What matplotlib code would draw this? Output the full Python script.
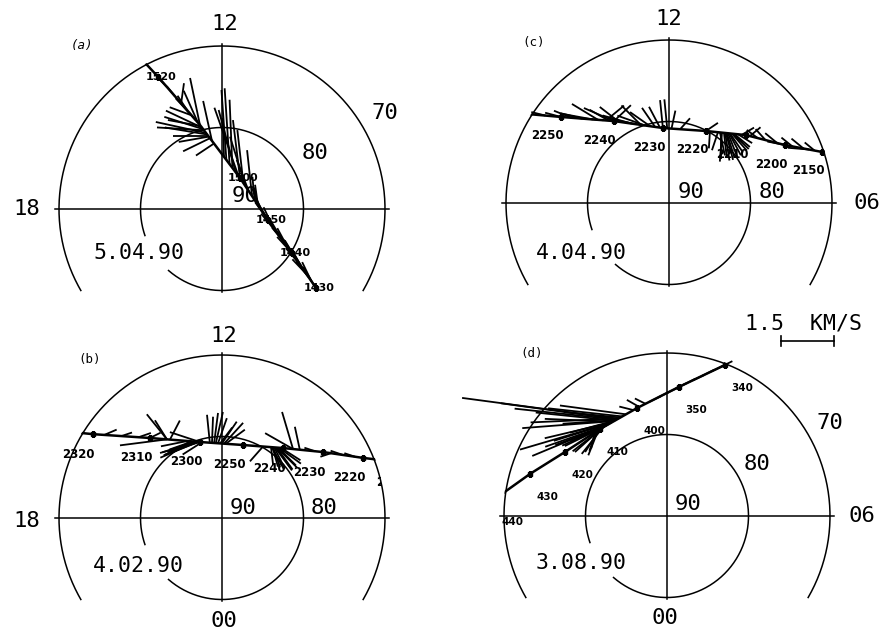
import numpy as np
import matplotlib
matplotlib.use("Agg")
import matplotlib.pyplot as plt
from matplotlib.collections import LineCollection
from matplotlib.patches import Circle
from matplotlib.transforms import Bbox, TransformedBbox

# ---------------- data ----------------
# Panel (a) 5.04.90 : satellite track (UT hhmm, MLT h, invariant latitude deg)
A_TIME = [1430, 1440, 1450, 1500, 1510, 1520, 1522]
A_MLT = [3.33, 3.85, 5.10, 9.99, 12.98, 13.72, 13.85]
A_LAT = [74.9, 79.85, 84.2, 85.6, 79.34, 72.0, 69.75]
A_SHOW = [1, 1, 1, 1, 0, 1, 0]
# drift vectors: time (hhmm), dawnward and sunward components (km/s)
A_VT = [1508.5, 1509.0, 1509.5, 1508.0, 1507.5, 1510.0, 1511.0, 1512.0, 1513.0, 1507.0, 1514.5, 1509.8, 1506.5, 1516.0, 1518.0,
        1508.2, 1509.2, 1507.8, 1510.5,
        1503.4, 1502.6, 1501.9, 1501.1, 1500.4, 1500.0, 1458.8, 1457.9, 1456.9, 1455.7, 1454.8, 1453.6, 1504.0,
        1431, 1433, 1435, 1437, 1439, 1441, 1443, 1445, 1447, 1449, 1451, 1452.5,
        1432, 1434, 1436, 1438, 1440, 1442, 1444, 1446, 1448, 1450]
A_VX = [-1.42, -1.33, -1.02, -0.99, -0.76, -0.28, -0.57, -0.62, -0.28, -0.25, 0.08, -0.93, -0.51, -0.23, -0.17,
        -1.20, -1.10, -0.85, -0.40,
        -0.14, -0.14, -0.08, -0.48, -0.68, -0.20, -0.17, -0.45, -0.34, -0.14, -0.06, -0.08, -0.03,
        -0.30, -0.36, -0.32, -0.38, -0.30, -0.34, -0.36, -0.30, -0.40, -0.32, -0.30, -0.25,
        -0.26, -0.40, -0.28, -0.34, -0.42, -0.28, -0.38, -0.34, -0.26, -0.36]
A_VY = [0.31, 0.08, 0.48, 0.00, -0.37, 1.33, 0.62, 0.23, 0.42, 1.13, 0.57, 0.17, -0.34, 0.28, 0.17,
        0.20, 0.35, -0.15, 0.90,
        1.98, 2.15, 1.93, 1.76, 1.93, 1.64, 1.50, 1.42, 0.88, 1.30, 0.65, 0.57, 1.10,
        0.50, 0.46, 0.52, 0.44, 0.48, 0.50, 0.44, 0.52, 0.46, 0.50, 0.55, 0.60,
        0.54, 0.42, 0.50, 0.56, 0.46, 0.52, 0.48, 0.44, 0.55, 0.50]

# Panel (b) 4.02.90
B_TIME = [2210, 2220, 2230, 2240, 2250, 2300, 2310, 2320, 2324]
B_MLT = [7.11, 7.54, 8.21, 9.26, 10.93, 13.08, 14.80, 15.80, 16.03]
B_LAT = [66.43, 71.20, 75.20, 78.61, 80.68, 80.29, 76.79, 71.11, 68.57]
B_SHOW = [1, 1, 1, 1, 1, 1, 1, 1, 0]
B_VT = [2306.6, 2306.6, 2306.0, 2306.6, 2300.0, 2300.0, 2300.5, 2301.0, 2301.5, 2302.0, 2259.5, 2302.5,
        2300.2, 2300.8, 2301.2,
        2257.7, 2257.2, 2256.7, 2256.3, 2255.8, 2255.3, 2254.9, 2254.4, 2254.0,
        2242.5, 2242.0, 2241.5, 2243.0, 2241.0, 2242.8, 2241.8, 2240.5, 2245.0,
        2242.2, 2241.2, 2242.6, 2241.6,
        2237.5, 2235.8, 2237.5,
        2222, 2225, 2228, 2232, 2310, 2312, 2315, 2318]
B_VX = [-0.57, -0.34, 0.28, -1.33, -0.85, -1.13, -1.05, -0.85, -0.65, -0.42, -0.55, -0.75,
        -1.00, -0.95, -0.75,
        -0.08, 0.03, 0.11, 0.20, 0.25, 0.34, 0.42, 0.54, 0.54,
        0.20, 0.48, 0.57, 0.06, 0.62, 0.34, 0.40, 0.55, -0.37,
        0.30, 0.50, 0.15, 0.45,
        -0.31, -0.14, -0.79,
        -0.30, -0.35, -0.30, -0.30, 0.30, 0.35, 0.30, 0.35]
B_VY = [0.71, 0.54, 0.54, -0.17, 0.28, -0.31, -0.45, -0.37, -0.23, -0.28, -0.35, -0.15,
        -0.38, -0.30, -0.30,
        0.79, 0.74, 0.85, 0.88, 0.71, 0.45, 0.62, 0.59, 0.40,
        -0.57, -0.65, -0.57, -0.51, -0.45, -0.62, -0.55, -0.35, -0.42,
        -0.60, -0.50, -0.55, -0.62,
        1.05, 0.65, 0.45,
        0.10, 0.12, -0.10, 0.10, 0.15, 0.12, 0.10, 0.15]

# Panel (c) 4.04.90
C_TIME = [2150, 2200, 2210, 2220, 2230, 2240, 2250, 2254]
C_MLT = [7.23, 7.77, 8.76, 10.19, 12.31, 14.26, 15.43, 15.83]
C_LAT = [70.21, 74.09, 77.40, 80.07, 80.77, 77.89, 73.06, 69.75]
C_SHOW = [1, 1, 1, 1, 1, 1, 1, 0]
C_VT = [2240.0, 2240.0, 2239.0, 2241.0, 2242.0, 2244.0, 2243.0, 2241.5, 2246, 2248, 2250, 2252,
        2230.6, 2231.6, 2232.6, 2230.0, 2229.0, 2228.0, 2233.6, 2235.4, 2236.4, 2226.0, 2234.5,
        2219.0, 2220.0,
        2216.0, 2215.0, 2214.0, 2213.0, 2215.5, 2214.5, 2217.0, 2212.0, 2216.5, 2213.5, 2211.0, 2209.0,
        2215.2, 2214.2, 2213.2, 2216.2, 2214.8,
        2152, 2155, 2158, 2202, 2205, 2207, 2153.5, 2200]
C_VX = [-0.85, 0.48, -0.54, -0.54, -0.93, -0.93, -0.74, 0.51, -0.60, -0.50, -0.45, -0.40,
        -0.31, -0.37, -0.57, -0.08, -0.08, 0.11, -0.79, -0.82, -0.82, 0.28, -0.55,
        -0.03, 0.34,
        -0.06, 0.20, 0.37, 0.45, 0.08, 0.28, -0.17, 0.40, 0.14, 0.42, 0.34, 0.30,
        0.12, 0.33, 0.44, 0.00, 0.22,
        -0.28, -0.34, -0.31, -0.34, -0.28, -0.31, -0.60, -0.50]
C_VY = [0.37, 0.45, 0.42, 0.31, 0.08, 0.17, 0.45, 0.42, 0.15, 0.20, 0.12, 0.10,
        0.59, 0.54, 0.40, 0.79, 0.82, 0.51, 0.28, 0.17, 0.23, 0.31, 0.55,
        -0.48, 0.23,
        -0.82, -0.76, -0.54, -0.37, -0.71, -0.71, -0.51, -0.25, -0.65, -0.48, 0.20, 0.25,
        -0.78, -0.62, -0.43, -0.75, -0.70,
        0.23, 0.28, 0.25, 0.28, 0.31, 0.23, 0.05, 0.10]

# Panel (d) 3.08.90
D_TIME = [340, 350, 400, 410, 420, 430, 440]
D_MLT = [10.60, 11.65, 13.03, 14.51, 15.86, 16.86, 17.62]
D_LAT = [70.15, 74.10, 76.25, 76.53, 75.22, 72.42, 68.80]
D_SHOW = [1, 1, 1, 1, 1, 1, 1]
D_VT = [405.1, 405.5, 406.0, 406.5, 404.0, 403.0, 407.0, 407.5, 408.0, 408.5, 409.0, 409.5, 410.0, 410.5, 406.0, 405.0, 411.0, 411.5,
        404.5, 405.8, 406.8, 407.2, 407.8, 408.2, 408.8, 409.2, 406.2, 405.3,
        341, 343, 345, 347, 349, 351, 353, 355, 357, 358, 359.5, 401]
D_VX = [-4.42, -2.89, -2.24, -1.93, -2.10, -1.87, -2.58, -2.18, -1.76, -1.42, -1.10, -0.76, -0.42, -0.28, -1.27, -2.49, -0.20, -0.10,
        -1.60, -1.50, -1.90, -1.60, -1.30, -1.00, -0.90, -0.60, -2.60, -3.30,
        0.34, 0.31, 0.36, 0.30, 0.34, 0.32, 0.35, 0.30, 0.33, -0.30, -0.35, -0.40]
D_VY = [0.59, 0.31, 0.23, 0.08, 0.23, 0.25, -0.76, -0.91, -0.62, -0.54, -0.54, -0.68, -0.65, -0.71, -0.34, -0.11, -0.55, -0.45,
        0.15, -0.10, -0.45, -0.50, -0.60, -0.45, -0.70, -0.75, -0.20, 0.45,
        0.17, 0.15, 0.18, 0.14, 0.17, 0.16, 0.17, 0.15, 0.16, 0.15, 0.20, 0.10]

DATES = ["5.04.90", "4.02.90", "4.04.90", "3.08.90"]
TAGS = ["(a)", "(b)", "(c)", "(d)"]
SCALE_KMS = 1.5
SCALE_LABEL = "1.5  KM/S"

# ---------------- geometry / style ----------------
W, H = 882, 631
S = 8.15                       # pixels per degree of colatitude
KMS_TO_DEG = 6.5 / SCALE_KMS   # vector length scale
XL, XR, YB, YT = -25.0, 25.0, -13.0, 24.5
MONO = "DejaVu Sans Mono"


def to_xy(mlt, lat):
    r = 90.0 - np.asarray(lat, float)
    th = np.deg2rad((np.asarray(mlt, float) - 12.0) * 15.0)
    return -r * np.sin(th), r * np.cos(th)


def hhmm_to_min(t):
    t = np.asarray(t, float)
    return np.floor(t / 100.0) * 60.0 + np.mod(t, 100.0)


fig = plt.figure(figsize=(W / 100, H / 100), dpi=100)
fig.patch.set_facecolor("white")

PANELS = [
    dict(center=(222, 209), t=A_TIME, mlt=A_MLT, lat=A_LAT, show=A_SHOW, vt=A_VT, vx=A_VX, vy=A_VY,
         loff=(0.35, 0.0), lfs=8,
         texts=[("12", 0.3, 22.7), ("18", -23.9, 0.0), ("70", 20.0, 11.8), ("80", 11.4, 6.9), ("90", 2.8, 1.6)],
         date=(DATES[0], -10.2, -5.4), tag=(TAGS[0], -17.2, 20.0, "italic")),
    dict(center=(222, 518), t=B_TIME, mlt=B_MLT, lat=B_LAT, show=B_SHOW, vt=B_VT, vx=B_VX, vy=B_VY,
         loff=(-1.72, -2.45), lfs=8.5,
         texts=[("12", 0.25, 22.3), ("18", -23.9, -0.4), ("00", 0.25, -12.6), ("90", 2.6, 1.2), ("80", 12.5, 1.2)],
         date=(DATES[1], -10.3, -5.9), tag=(TAGS[1], -16.2, 19.5, "normal")),
    dict(center=(669, 203), t=C_TIME, mlt=C_MLT, lat=C_LAT, show=C_SHOW, vt=C_VT, vx=C_VX, vy=C_VY,
         loff=(-1.72, -2.33), lfs=8.5,
         texts=[("12", 0.0, 22.6), ("06", 24.3, 0.0), ("90", 2.7, 1.35), ("80", 12.6, 1.35)],
         date=(DATES[2], -10.7, -6.1), tag=(TAGS[2], -16.6, 19.75, "normal")),
    dict(center=(667, 516), t=D_TIME, mlt=D_MLT, lat=D_LAT, show=D_SHOW, vt=D_VT, vx=D_VX, vy=D_VY,
         loff=(2.09, -2.82), lfs=7.5,
         texts=[("06", 23.9, 0.0), ("70", 20.0, 11.4), ("80", 11.0, 6.4), ("90", 2.6, 1.5), ("00", -0.25, -12.5)],
         date=(DATES[3], -10.6, -5.8), tag=(TAGS[3], -16.6, 19.9, "normal")),
]

for i, p in enumerate(PANELS):
    cx, cy = p["center"]
    left = (cx + XL * S) / W
    bottom = (H - (cy - YB * S)) / H
    ax = fig.add_axes([left, bottom, (XR - XL) * S / W, (YT - YB) * S / H])
    ax.set_xlim(XL, XR)
    ax.set_ylim(YB, YT)
    ax.axis("off")
    ax.patch.set_visible(False)

    # latitude circles 70 and 80
    phi = np.deg2rad(np.linspace(-30, 210, 400))
    ax.plot(20.0 * np.cos(phi), 20.0 * np.sin(phi), color="k", lw=1.1)
    phi = np.deg2rad(np.linspace(229, 199 + 360, 400))
    ax.plot(10.0 * np.cos(phi), 10.0 * np.sin(phi), color="k", lw=1.1)
    # MLT cross
    ax.plot([-20.5, 20.5], [0, 0], color="k", lw=1.1)
    ax.plot([0, 0], [-10.2, 20.2], color="k", lw=1.1)

    for s, x, y in p["texts"]:
        ax.text(x, y, s, fontsize=16, family=MONO, ha="center", va="center")
    s, x, y = p["date"]
    ax.text(x, y, s, fontsize=15.5, family=MONO, ha="center", va="center")
    s, x, y, st = p["tag"]
    ax.text(x, y, s, fontsize=9, family=MONO, style=st, ha="center", va="center")

    # track
    tx, ty = to_xy(p["mlt"], p["lat"])
    tmin = hhmm_to_min(p["t"])
    clip = Circle((0, 0), 20.15, transform=ax.transData)

    # drift vectors
    vmin = hhmm_to_min(p["vt"])
    bx = np.interp(vmin, tmin, tx)
    by = np.interp(vmin, tmin, ty)
    ex = bx + KMS_TO_DEG * np.asarray(p["vx"])
    ey = by + KMS_TO_DEG * np.asarray(p["vy"])
    segs = np.stack([np.column_stack([bx, by]), np.column_stack([ex, ey])], axis=1)
    lc = LineCollection(segs, colors="k", linewidths=1.3, clip_on=False)
    ax.add_collection(lc, autolim=False)

    ln, = ax.plot(tx, ty, color="k", lw=1.8)
    ln.set_clip_path(clip)
    show = np.asarray(p["show"], bool)
    mk, = ax.plot(tx[show], ty[show], ls="none", marker="s", ms=3.5, color="k")
    mk.set_clip_path(clip)

    cbox = TransformedBbox(Bbox([[-40, -40], [19.5, 40]]), ax.transData)
    ox, oy = p["loff"]
    for t, x, y, sh in zip(p["t"], tx, ty, show):
        if not sh:
            continue
        txt = ax.text(x + ox, y + oy, str(t), fontsize=p["lfs"], fontweight="bold",
                      family="DejaVu Sans", ha="center", va="center", clip_on=True)
        txt.set_clip_box(cbox)

    if i == 3:
        half = 0.5 * SCALE_KMS * KMS_TO_DEG
        xc, yc = 17.2, 21.5
        ax.plot([xc - half, xc + half], [yc, yc], color="k", lw=1.2, clip_on=False)
        ax.plot([xc - half, xc - half], [yc - 0.6, yc + 0.6], color="k", lw=1.2, clip_on=False)
        ax.plot([xc + half, xc + half], [yc - 0.6, yc + 0.6], color="k", lw=1.2, clip_on=False)
        ax.text(16.7, 23.6, SCALE_LABEL, fontsize=15.5, family=MONO, ha="center", va="center")

fig.savefig("out.png", dpi=100, facecolor="white")
